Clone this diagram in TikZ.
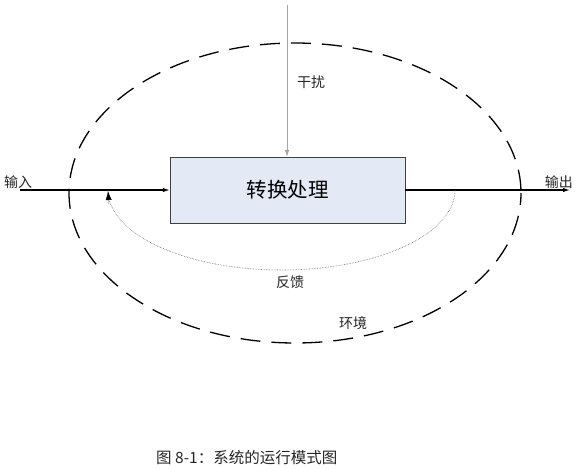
\documentclass[tikz,border=0pt]{standalone}
\usepackage{fontspec}
\newfontfamily\cjk{Noto Sans CJK SC}
\usetikzlibrary{arrows.meta}
\definecolor{boxfill}{HTML}{E4EAF5}
\begin{document}
\begin{tikzpicture}[x=1pt,y=-1pt,
  lbl/.style={font=\cjk\fontsize{14}{16}\selectfont, inner sep=0pt, text=black!85},
  tip/.style={-{Latex[length=7pt,width=4.5pt]}},
  procbox/.style={draw=black!75, fill=boxfill, minimum width=235pt, minimum height=66pt, inner sep=0pt, font=\cjk\fontsize{20.5}{24}\selectfont}]
\useasboundingbox (0,0) rectangle (578,469);
% environment ellipse
\draw[line width=1.3pt, dash pattern=on 20pt off 11pt, dash phase=8pt] (295,193) ellipse [x radius=226, y radius=150];
% process box
\node[procbox] (box) at (287.5,190) {转换处理};
% coordinates
\coordinate (inS) at (20,190);
\coordinate (outE) at (570,190);
\coordinate (dS) at (287,5);
\coordinate (fbS) at (455,190);
\coordinate (fbE) at (108,191);
% input
\draw[line width=1.3pt, tip] (inS) -- (box.west |- inS);
% output
\draw[line width=1.3pt, tip] (box.east |- outE) -- (outE);
% disturbance
\draw[line width=0.6pt, draw=black!35, tip] (dS) -- (box.north -| dS);
% feedback
\draw[line width=0.6pt, draw=black!60, densely dotted] (fbS) arc[start angle=0, end angle=180, x radius=173.5, y radius=80];
\draw[line width=0.5pt, black!55, -{Latex[length=9pt,width=6pt,black]}] (109,204) -- (fbE);
% labels
\node[lbl, anchor=west] (lin) at (4,182) {输入};
\node[lbl, anchor=east] (lout) at (573,182) {输出};
\node[lbl, anchor=west] (ldist) at (297,82) {干扰};
\node[lbl] (lfb) at (290,282) {反馈};
\node[lbl] (lenv) at (353,323) {环境};
\node[lbl, anchor=west, font=\cjk\fontsize{15.5}{18}\selectfont] (cap) at (156,458) {图 8-1：系统的运行模式图};
\end{tikzpicture}
\end{document}
